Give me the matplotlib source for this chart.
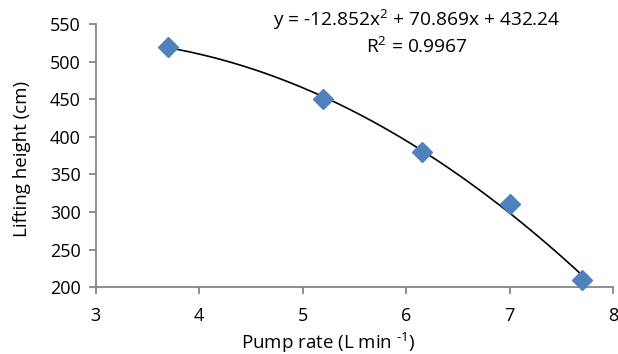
import numpy as np
import matplotlib
matplotlib.use("Agg")
import matplotlib.pyplot as plt

pump_rate = [3.7, 5.2, 6.15, 7.0, 7.7]
lifting_height = [520, 450, 380, 311, 210]
trend_coeffs = [-12.852, 70.869, 432.24]
x_ticks = [3, 4, 5, 6, 7, 8]
y_ticks = [200, 250, 300, 350, 400, 450, 500, 550]

plt.rcParams['font.family'] = ['Open Sans', 'DejaVu Sans']
plt.rcParams['mathtext.fontset'] = 'custom'
plt.rcParams['mathtext.rm'] = 'Open Sans'
plt.rcParams['mathtext.it'] = 'Open Sans'
plt.rcParams['mathtext.default'] = 'regular'

fig = plt.figure(figsize=(6.18, 3.54), dpi=100)
ax = fig.add_axes([0.155, 0.189, 0.837, 0.743])

xs = np.linspace(min(pump_rate), max(pump_rate), 200)
ax.plot(xs, np.polyval(trend_coeffs, xs), color='black', lw=1.2, zorder=2)
ax.plot(pump_rate, lifting_height, linestyle='none', marker='D', ms=10,
        color='#4F81BD', markeredgecolor='#4F81BD', zorder=3, clip_on=False)

ax.set_xlim(3, 8)
ax.set_ylim(200, 550)
ax.set_xticks(x_ticks)
ax.set_yticks(y_ticks)
for s in ['top', 'right']:
    ax.spines[s].set_visible(False)
for s in ['left', 'bottom']:
    ax.spines[s].set_color('#868686')
    ax.spines[s].set_linewidth(1.3)
ax.tick_params(axis='both', colors='#868686', labelcolor='black', labelsize=13,
               length=5, width=1.3, direction='out')
ax.tick_params(axis='y', pad=6)
ax.tick_params(axis='x', pad=9)

fig.text(0.531, 0.03, r'Pump rate (L min $^{\text{-1}}$)', ha='center', va='center', fontsize=13.5)
fig.text(0.036, 0.55, 'Lifting height (cm)', ha='center', va='center', rotation=90, fontsize=13.5)

fig.text(0.675, 0.943, 'y = -12.852x$^{2}$ + 70.869x + 432.24', ha='center', va='center', fontsize=13.8)
fig.text(0.675, 0.868, 'R$^{2}$ = 0.9967', ha='center', va='center', fontsize=13.8)

fig.savefig('out.png', dpi=100)
